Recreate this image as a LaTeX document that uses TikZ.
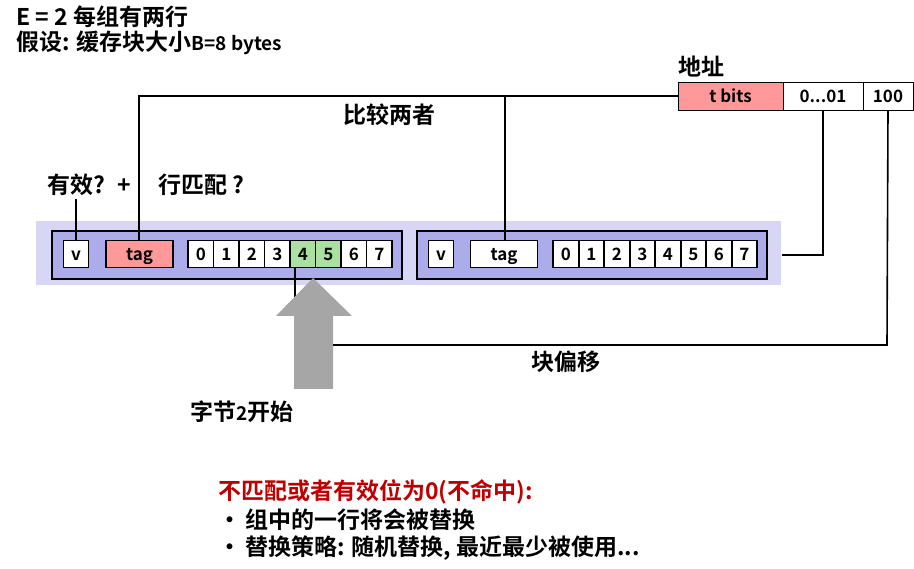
\documentclass[tikz,border=0pt]{standalone}
\usepackage{fontspec}
\setmainfont{Noto Sans CJK SC}[BoldFont={Noto Sans CJK SC Bold}]
\definecolor{setbg}{RGB}{215,215,245}
\definecolor{linefill}{RGB}{172,172,234}
\definecolor{tagred}{RGB}{255,153,153}
\definecolor{hitgreen}{RGB}{170,225,160}
\definecolor{missred}{RGB}{192,0,0}
\definecolor{arrowgray}{RGB}{166,166,166}
\begin{document}
\begin{tikzpicture}[x=1pt,y=-1pt,font=\bfseries,
    cell/.style={draw,line width=1.6pt,fill=white,minimum height=27pt,inner sep=0pt,
      text height=15pt,text depth=2.6pt,font=\bfseries\fontsize{17}{17}\selectfont},
    linebox/.style={draw,line width=1.8pt,fill=linefill},
    addr/.style={draw,line width=0.8pt,fill=white,minimum height=28pt,inner sep=0pt,
      text height=15pt,text depth=2.6pt,font=\bfseries\fontsize{17}{17}\selectfont},
    wire/.style={line width=1.6pt},
    lbl/.style={anchor=west,inner sep=0pt,font=\bfseries\fontsize{23}{23}\selectfont}]
  \useasboundingbox (0,0) rectangle (914,569);
  % set background and the two lines
  \fill[setbg] (36,221) rectangle (781,285);
  \path[linebox] (52,231) rectangle (402,279);
  \path[linebox] (417,231) rectangle (767,279);
  % line 1
  \node[cell,minimum width=25pt] (v1) at (76,254) {v};
  \node[cell,fill=tagred,minimum width=67pt] (tag1) at (139.5,254) {tag};
  \foreach \i in {0,...,7} {
    \pgfmathsetmacro{\cx}{200.8+\i*25.5}
    \node[cell,minimum width=25.5pt] (a\i) at (\cx,254) {\i};
  }
  \node[cell,fill=hitgreen,minimum width=25.5pt] at (a4) {4};
  \node[cell,fill=hitgreen,minimum width=25.5pt] at (a5) {5};
  % line 2
  \node[cell,minimum width=25pt] (v2) at (441,254) {v};
  \node[cell,minimum width=67pt] (tag2) at (504,254) {tag};
  \foreach \i in {0,...,7} {
    \pgfmathsetmacro{\cx}{566+\i*25.5}
    \node[cell,minimum width=25.5pt] (b\i) at (\cx,254) {\i};
  }
  % address
  \node[lbl] (addrlbl) at (678,67) {地址};
  \node[addr,fill=tagred,minimum width=105pt] (tbits) at (730.5,96) {t bits};
  \node[addr,minimum width=80pt] (idx) at (823,96) {0...01};
  \node[addr,minimum width=50pt] (off) at (888,96) {100};
  % compare wires
  \coordinate (ctop) at (139,96);
  \coordinate (vtop) at (76,199);
  \draw[wire] (tbits.west) -- (ctop) -- (tag1.north -| ctop);
  \draw[wire] (505,96) -- (tag2.north -| 505,0);
  \draw[wire] (vtop) -- (v1.north);
  % index wire
  \coordinate (ilow) at (823,255);
  \draw[wire] (idx.south) -- (ilow) -- (782,255);
  % byte pointer and offset wire
  \coordinate (plow) at (295,297);
  \draw[wire] (a4.south -| plow) -- (plow);
  \fill[arrowgray] (276,316) -- (313,278) -- (352,316) -- (333,316) -- (333,389) -- (294,389) -- (294,316) -- cycle;
  \coordinate (offlow) at (887,345);
  \draw[wire] (off.south) -- (offlow) -- (333,345);
  % labels
  \node[lbl] (title1) at (16,17) {E = 2 每组有两行};
  \node[lbl] (title2) at (16,43) {假设: 缓存块大小\fontsize{19}{19}\selectfont B=8 bytes};
  \node[lbl] (cmp) at (343,115) {比较两者};
  \node[lbl] (valid) at (47,185) {有效? \ +};
  \node[lbl] (match) at (158,185) {行匹配 ?};
  \node[lbl] (boff) at (531,362) {块偏移};
  \node[lbl] (start) at (190,412) {字节\fontsize{19}{19}\selectfont 2\fontsize{23}{23}\selectfont 开始};
  \node[lbl,text=missred] (miss) at (218,492) {不匹配或者有效位为0(不命中):};
  \node[lbl] (pt1) at (218,520) {•\hspace{4pt}组中的一行将会被替换};
  \node[lbl] (pt2) at (218,548) {•\hspace{4pt}替换策略: 随机替换, 最近最少被使用...};
\end{tikzpicture}
\end{document}
